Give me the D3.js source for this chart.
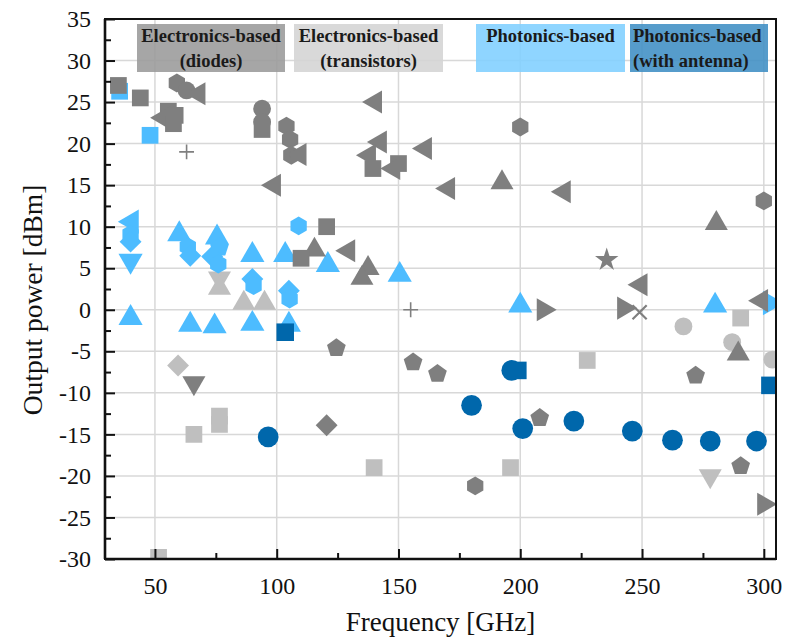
<!DOCTYPE html>
<html><head><meta charset="utf-8">
<script src="https://cdn.jsdelivr.net/npm/d3@7"></script>
<style>body{margin:0;background:#fff} svg{display:block}</style>
</head><body>
<svg id="chart" width="790" height="640"></svg>
<script>
// ---------------- DATA ----------------
const categories = ["diodes", "transistors", "photonics", "antenna"];
const legendLines = {
  diodes: ["Electronics-based", "(diodes)"],
  transistors: ["Electronics-based", "(transistors)"],
  photonics: ["Photonics-based"],
  antenna: ["Photonics-based", "(with antenna)"]
};
const xTicks = [50, 100, 150, 200, 250, 300];
const yTicks = [35, 30, 25, 20, 15, 10, 5, 0, -5, -10, -15, -20, -25, -30];

// [frequency GHz, output power dBm]
const diodesValues = [
  [35, 27], [44, 25.5], [59, 27.3], [63, 26.4], [68, 26],
  [55.5, 23.9], [58.3, 23.4], [53.5, 23.1], [57.6, 22.4], [63, 19],
  [94, 24.2], [94, 22.6], [94, 21.7], [104, 22.1], [105.5, 20.5],
  [106, 18.6], [109.5, 18.7], [99, 15], [140.5, 25], [142.5, 20.2],
  [138, 18.6], [139.5, 17], [150, 17.6], [148, 17], [161, 19.4],
  [170.5, 14.6], [192.5, 15.3], [200, 22], [218, 14.2], [300, 13.1],
  [280.5, 10.4], [235.5, 6], [249.5, 3], [242.5, 0.2], [249, -0.3],
  [209.5, 0], [299, 1.1], [289.5, -5.3], [272, -7.8], [120.5, 10],
  [115.5, 7.2], [110, 6.2], [129.5, 7.1], [137.5, 5], [135, 3.8],
  [155, 0], [124.5, -4.5], [156, -6.2], [166, -7.6], [120.5, -13.9],
  [66, -8.8], [208, -12.9], [181.5, -21.2], [290.5, -18.7], [300, -23.4]
];
const diodesMarker = [
  "square", "square", "hex", "circle", "triL",
  "square", "square", "triL", "square", "plus",
  "circle", "circle", "square", "hex", "hex",
  "hex", "triL", "triL", "triL", "triL",
  "triL", "square", "square", "triL", "triL",
  "triL", "tri", "hex", "triL", "hex",
  "tri", "star", "triL", "triR", "x",
  "triR", "triL", "tri", "pent", "square",
  "tri", "square", "triL", "tri", "tri",
  "plus", "pent", "pent", "pent", "diamond",
  "triD", "pent", "hex", "pent", "triR"
];

const transistorsValues = [
  [76.5, 3.8], [76.5, 2.6], [86.5, 0.8], [95, 0.8], [59.5, -6.7],
  [66, -15], [76.5, -12.8], [76.5, -13.8], [140, -19], [196, -19],
  [227.5, -6.1], [267, -2], [290.5, -1], [287, -3.9], [303.5, -6],
  [278, -20], [51.5, -29.8]
];
const transistorsMarker = [
  "triD", "tri", "tri", "tri", "diamond",
  "square", "square", "square", "square", "square",
  "square", "circle", "square", "circle", "circle",
  "triD", "square"
];

const photonicsValues = [
  [35.5, 26.3], [48, 21], [40.5, 10.6], [40, 9.1], [40, 8.2],
  [40, 5.9], [40, -1], [60, 9.1], [63.5, 7.6], [64.5, 6.5],
  [64.5, -1.8], [75.5, 8.7], [76.5, 7.6], [73.5, 6.4], [76, 5.5],
  [74.5, -2], [90, 6.6], [90, 3.7], [90.5, 2.9], [90, -1.7],
  [109, 10.1], [103.5, 6.6], [105, 2.3], [105.3, 1.3], [105, -1.8],
  [121, 5.4], [150.5, 4.2], [200, 0.5], [280, 0.5], [302.5, 0.8]
];
const photonicsMarker = [
  "square", "square", "triL", "hex", "diamond",
  "triD", "tri", "tri", "hex", "diamond",
  "tri", "tri", "pent", "diamond", "hex",
  "tri", "tri", "diamond", "hex", "tri",
  "hex", "tri", "diamond", "hex", "tri",
  "tri", "tri", "tri", "tri", "triR"
];

const antennaValues = [
  [103.5, -2.7], [96.5, -15.3], [180, -11.5], [196.5, -7.3], [199, -7.3],
  [201, -14.3], [222, -13.4], [246, -14.6], [262.5, -15.7], [278, -15.8],
  [297, -15.8], [302.5, -9.1]
];
const antennaMarker = [
  "square", "circle", "circle", "circle", "square",
  "circle", "circle", "circle", "circle", "circle",
  "circle", "square"
];

// ---------------- STYLE / LAYOUT ----------------
const W = 790, H = 640;
const margin = {left: 105, right: 14, top: 19, bottom: 81};
const iw = W - margin.left - margin.right;
const ih = H - margin.top - margin.bottom;

const colors = {diodes: "#7f7f7f", transistors: "#bfbfbf", photonics: "#4dbcff", antenna: "#0067ab"};
const boxColors = {diodes: "#9a9a9a", transistors: "#d4d4d4", photonics: "#80cfff", antenna: "#3f8ec4"};
const legendBoxes = {
  diodes: {x0: 137, x1: 285, anchor: "middle"},
  transistors: {x0: 294, x1: 443, anchor: "middle"},
  photonics: {x0: 476, x1: 625, anchor: "middle"},
  antenna: {x0: 630, x1: 768, anchor: "start"}
};
const serif = "'Liberation Serif', 'DejaVu Serif', serif";

const x = d3.scaleLinear().domain([29.5, 305]).range([0, iw]);
const y = d3.scaleLinear().domain([-30, 35]).range([ih, 0]);

const svg = d3.select("#chart");
const g = svg.append("g").attr("transform", `translate(${margin.left},${margin.top})`);

// clip
svg.append("defs").append("clipPath").attr("id", "clip")
  .append("rect").attr("width", iw).attr("height", ih);

// grid
g.append("g").selectAll("line.gx").data(xTicks).join("line")
  .attr("x1", d => x(d)).attr("x2", d => x(d)).attr("y1", 0).attr("y2", ih)
  .attr("stroke", "#d8d8d8").attr("stroke-width", 1.5);
g.append("g").selectAll("line.gy").data(yTicks).join("line")
  .attr("y1", d => y(d)).attr("y2", d => y(d)).attr("x1", 0).attr("x2", iw)
  .attr("stroke", "#d8d8d8").attr("stroke-width", 1.5);

// legend boxes (semi transparent over grid)
const lg = g.append("g");
categories.forEach(c => {
  const b = legendBoxes[c];
  const bx = b.x0 - margin.left, bw = b.x1 - b.x0;
  lg.append("rect").attr("x", bx).attr("y", 24 - margin.top).attr("width", bw).attr("height", 48)
    .attr("fill", boxColors[c]).attr("opacity", 0.88);
  const tx = b.anchor === "middle" ? bx + bw / 2 : bx + 3;
  legendLines[c].forEach((t, i) => {
    lg.append("text").attr("x", tx).attr("y", 42 - margin.top + i * 25)
      .attr("text-anchor", b.anchor)
      .attr("font-family", serif).attr("font-weight", "bold").attr("font-size", 18.5)
      .attr("fill", "#1a1a1a").text(t);
  });
});

// symbols
const hexagon = {draw(ctx, size) {
  const r = Math.sqrt(size / (1.5 * Math.sqrt(3)));
  for (let i = 0; i < 6; i++) {
    const a = Math.PI / 3 * i - Math.PI / 2;
    const px = r * Math.cos(a), py = r * Math.sin(a);
    i ? ctx.lineTo(px, py) : ctx.moveTo(px, py);
  }
  ctx.closePath();
}};
const pentagon = {draw(ctx, size) {
  const r = Math.sqrt(size / (2.5 * Math.sin(2 * Math.PI / 5)));
  for (let i = 0; i < 5; i++) {
    const a = 2 * Math.PI / 5 * i - Math.PI / 2;
    const px = r * Math.cos(a), py = r * Math.sin(a) + r * 0.1;
    i ? ctx.lineTo(px, py) : ctx.moveTo(px, py);
  }
  ctx.closePath();
}};
const plusSym = {draw(ctx, size) {
  const r = Math.sqrt(size) / 2;
  ctx.moveTo(-r, 0); ctx.lineTo(r, 0); ctx.moveTo(0, -r); ctx.lineTo(0, r);
}};
const shapes = {
  square: {type: d3.symbolSquare, size: 280, rot: 0},
  diamond: {type: d3.symbolSquare, size: 240, rot: 45},
  circle: {type: d3.symbolCircle, size: 250, rot: 0},
  tri: {type: d3.symbolTriangle, size: 230, rot: 0},
  triD: {type: d3.symbolTriangle, size: 230, rot: 180},
  triL: {type: d3.symbolTriangle, size: 230, rot: -90},
  triR: {type: d3.symbolTriangle, size: 230, rot: 90},
  hex: {type: hexagon, size: 230, rot: 0},
  pent: {type: pentagon, size: 230, rot: 0},
  star: {type: d3.symbolStar, size: 170, rot: 0},
  plus: {type: plusSym, size: 220, rot: 0, line: true},
  x: {type: plusSym, size: 400, rot: 45, line: true}
};
const sizeBoost = {diodes: 1, transistors: 1, photonics: 1.1, antenna: 1.35};

const series = {
  diodes: {values: diodesValues, marker: diodesMarker},
  transistors: {values: transistorsValues, marker: transistorsMarker},
  photonics: {values: photonicsValues, marker: photonicsMarker},
  antenna: {values: antennaValues, marker: antennaMarker}
};
const drawOrder = ["transistors", "photonics", "diodes", "antenna"];
const pg = g.append("g").attr("clip-path", "url(#clip)");
drawOrder.forEach(c => {
  const s = series[c];
  const pts = s.values.map((v, i) => ({f: v[0], p: v[1], m: s.marker[i]}));
  pg.append("g").selectAll("path").data(pts).join("path")
    .attr("d", d => {
      const sh = shapes[d.m];
      const k = (d.m === "circle" || d.m.startsWith("tri")) ? sizeBoost[c] : (c === "antenna" ? 1.1 : 1);
      return d3.symbol().type(sh.type).size(sh.line ? sh.size : sh.size * k)();
    })
    .attr("transform", d => `translate(${x(d.f)},${y(d.p)}) rotate(${shapes[d.m].rot})`)
    .attr("fill", d => shapes[d.m].line ? "none" : colors[c])
    .attr("stroke", d => shapes[d.m].line ? colors[c] : "none")
    .attr("stroke-width", d => d.m === "x" ? 2.2 : 1.6);
});

// axes
const fmt = d => String(d);
const yAxis = g.append("g").call(d3.axisLeft(y).tickValues(yTicks).tickSizeInner(-10).tickSizeOuter(0).tickPadding(14).tickFormat(fmt));
const yMinor = g.append("g").call(d3.axisLeft(y).tickValues(yTicks.slice(1).map(v => v + 2.5)).tickSize(-6).tickFormat(""));
const xAxis = g.append("g").attr("transform", `translate(0,${ih})`)
  .call(d3.axisBottom(x).tickValues(xTicks).tickSizeInner(-10).tickSizeOuter(0).tickPadding(18).tickFormat(fmt));
const xMinor = g.append("g").attr("transform", `translate(0,${ih})`)
  .call(d3.axisBottom(x).tickValues([75, 125, 175, 225, 275]).tickSize(-6).tickFormat(""));
[yAxis, yMinor, xAxis, xMinor].forEach(a => {
  a.select(".domain").remove();
  a.selectAll(".tick line").attr("stroke", "#111").attr("stroke-width", 2);
  a.selectAll("text").attr("font-family", serif).attr("font-size", 24).attr("fill", "#111");
});

// frame
g.append("rect").attr("width", iw).attr("height", ih).attr("fill", "none")
  .attr("stroke", "#111").attr("stroke-width", 2);
g.append("line").attr("x1", 0).attr("x2", 0).attr("y1", 0).attr("y2", ih).attr("stroke", "#111").attr("stroke-width", 2.6);
g.append("line").attr("x1", 0).attr("x2", iw).attr("y1", ih).attr("y2", ih).attr("stroke", "#111").attr("stroke-width", 2.6);

// titles
svg.append("text").attr("x", margin.left + iw / 2).attr("y", 631).attr("text-anchor", "middle")
  .attr("font-family", serif).attr("font-size", 27).attr("fill", "#111").text("Frequency [GHz]");
svg.append("text").attr("transform", `translate(42,${300}) rotate(-90)`).attr("text-anchor", "middle")
  .attr("font-family", serif).attr("font-size", 27.5).attr("fill", "#111").text("Output power [dBm]");
</script>
</body></html>
